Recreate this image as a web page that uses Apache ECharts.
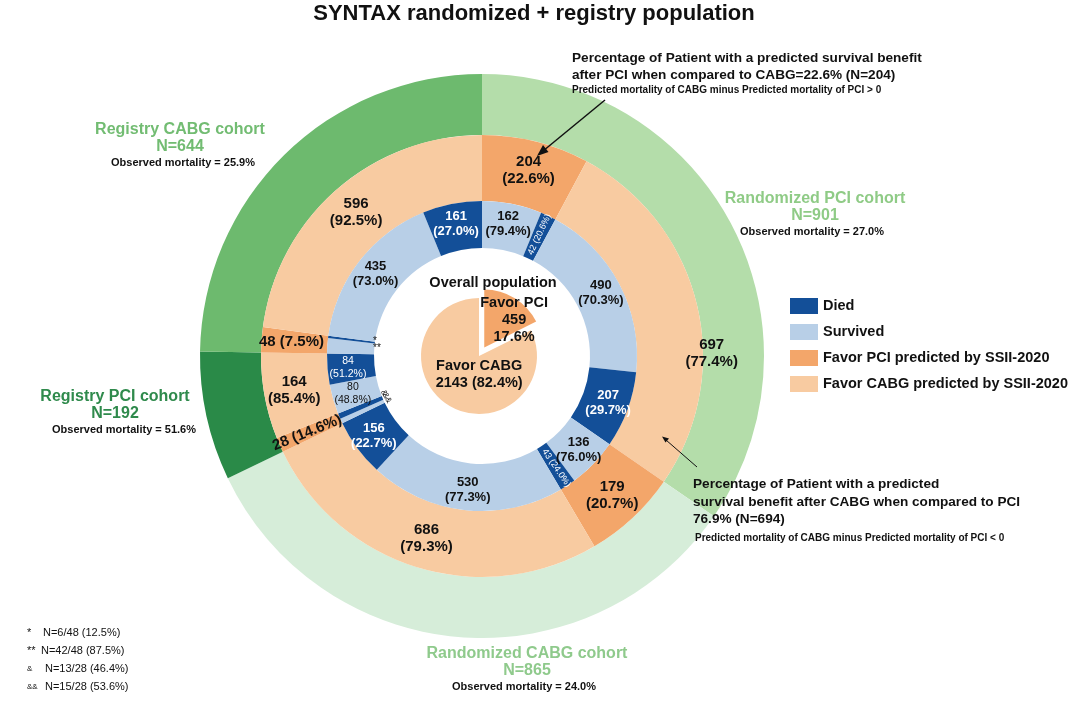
<!DOCTYPE html>
<html><head><meta charset="utf-8">
<script src="https://cdn.jsdelivr.net/npm/echarts@6/dist/echarts.min.js"></script>
<style>html,body{margin:0;padding:0;background:#fff}#c{width:1080px;height:706px}</style>
</head><body><div id="c"></div>
<script>
// ---------- DATA ----------
const cohorts = ['Randomized PCI cohort', 'Randomized CABG cohort', 'Registry PCI cohort', 'Registry CABG cohort'];
const cohortN = [901, 865, 192, 644];
const cohortMortality = ['27.0%', '24.0%', '51.6%', '25.9%'];
const favorPCI = [204, 179, 28, 48];
const favorCABG = [697, 686, 164, 596];
const survivedFavorPCI = [162, 136, 13, 42];
const diedFavorPCI = [42, 43, 15, 6];
const survivedFavorCABG = [490, 530, 80, 435];
const diedFavorCABG = [207, 156, 84, 161];
const overallNames = ['Favor PCI', 'Favor CABG'];
const overallValues = [459, 2143];
const footnoteSymbols = ['*', '**', '&', '&&'];
const footnoteTexts = ['N=6/48 (12.5%)', 'N=42/48 (87.5%)', 'N=13/28 (46.4%)', 'N=15/28 (53.6%)'];
const legendNames = ['Died', 'Survived', 'Favor PCI predicted by SSII-2020', 'Favor CABG predicted by SSII-2020'];

// ---------- STYLE ----------
const FONT = '"Liberation Sans", Arial, Helvetica, sans-serif';
const C_DIED = '#134f98', C_SURV = '#b8cfe7', C_FPCI = '#f3a66a', C_FCABG = '#f8cba1';
const cohortColors = ['#b4ddaa', '#d6edd9', '#2a8a48', '#6dba6e'];
const cohortTextColors = ['#8fcb86', '#8fca8c', '#2f8a4c', '#72bc72'];
const CX = 482, CY = 356;
const pct = (a, b) => (a / b * 100).toFixed(1) + '%';

// ---------- BUILD RINGS ----------
const outerData = cohorts.map((n, i) => ({ name: n, value: cohortN[i], itemStyle: { color: cohortColors[i] } }));

const orangeData = [];
cohorts.forEach((n, i) => {
  const small = favorPCI[i] < 100;
  const pLbl = small ? `${favorPCI[i]} (${pct(favorPCI[i], cohortN[i])})` : `${favorPCI[i]}\n(${pct(favorPCI[i], cohortN[i])})`;
  const p = { name: legendNames[2], value: favorPCI[i], itemStyle: { color: C_FPCI }, label: { formatter: pLbl } };
  if (i === 2) p.label.rotate = 22;
  orangeData.push(p);
  const c = { name: legendNames[3], value: favorCABG[i], itemStyle: { color: C_FCABG }, label: { formatter: `${favorCABG[i]}\n(${pct(favorCABG[i], cohortN[i])})` } };
  if (i === 0) {
    c.label.formatter = '{s|}\n' + c.label.formatter;
    c.label.rich = { s: { height: 84, lineHeight: 84 } };
    c.label.padding = [0, 0, 0, 88];
  }
  orangeData.push(c);
});

const radialRot = [65, 304];
const blueData = [];
cohorts.forEach((n, i) => {
  const sp = { name: 'Survived', value: survivedFavorPCI[i], itemStyle: { color: C_SURV },
    label: { formatter: `${survivedFavorPCI[i]}\n(${pct(survivedFavorPCI[i], favorPCI[i])})`, color: '#111' } };
  const dp = { name: 'Died', value: diedFavorPCI[i], itemStyle: { color: C_DIED },
    label: { formatter: `${diedFavorPCI[i]} (${pct(diedFavorPCI[i], favorPCI[i])})`, color: '#fff', rotate: radialRot[i], fontSize: 9, fontWeight: 'normal', lineHeight: 10 } };
  if (i >= 2) { sp.label = { show: false }; dp.label = { show: false }; }
  blueData.push(sp, dp);
  const sc = { name: 'Survived', value: survivedFavorCABG[i], itemStyle: { color: C_SURV },
    label: { formatter: `${survivedFavorCABG[i]}\n(${pct(survivedFavorCABG[i], favorCABG[i])})`, color: '#111' } };
  const dc = { name: 'Died', value: diedFavorCABG[i], itemStyle: { color: C_DIED },
    label: { formatter: `${diedFavorCABG[i]}\n(${pct(diedFavorCABG[i], favorCABG[i])})`, color: '#fff' } };
  if (i === 2) { sc.label.fontSize = 10.5; dc.label.fontSize = 10.5; sc.label.fontWeight = 'normal'; dc.label.fontWeight = 'normal'; sc.label.lineHeight = 13; dc.label.lineHeight = 13; }
  blueData.push(sc, dc);
});

const total = overallValues.reduce((a, b) => a + b, 0);
const centerData = [
  { name: legendNames[2], value: overallValues[0], selected: true, itemStyle: { color: C_FPCI },
    label: { formatter: `${overallNames[0]}\n${overallValues[0]}\n${pct(overallValues[0], total)}`, padding: [0, 0, 0, 26] } },
  { name: legendNames[3], value: overallValues[1], itemStyle: { color: C_FCABG },
    label: { formatter: `${overallNames[1]}\n${overallValues[1]} (${pct(overallValues[1], total)})\n{s|}`, padding: [0, 0, 0, 34],
      rich: { s: { height: 18, lineHeight: 18 } } } }
];

// ---------- GRAPHICS (annotations) ----------
const g = [];
function txt(x, y, text, size, color, align, weight, rot) {
  g.push({ type: 'text', x: x, y: y, z: 100, silent: true, rotation: rot || 0,
    style: { text: text, fill: color || '#111', font: `${weight || 'bold'} ${size}px ${FONT}`, textAlign: align || 'center', textVerticalAlign: 'middle' } });
}
txt(534, 14, 'SYNTAX randomized + registry population', 22, '#111');
const cohortLabelPos = [[815, 199, 812], [527, 654, 524], [115, 397, 124], [180, 130, 183]];
cohorts.forEach((n, i) => {
  const [x, y, mx] = cohortLabelPos[i];
  txt(x, y, n, 16, cohortTextColors[i]);
  txt(x, y + 17, 'N=' + cohortN[i], 16, cohortTextColors[i]);
  txt(mx, y + 33, 'Observed mortality = ' + cohortMortality[i], 11, '#111');
});
txt(572, 58, `Percentage of Patient with a predicted survival benefit`, 13.6, '#111', 'left');
txt(572, 75, `after PCI when compared to CABG=${pct(favorPCI[0], cohortN[0])} (N=${favorPCI[0]})`, 13.6, '#111', 'left');
txt(572, 90, 'Predicted mortality of CABG minus Predicted mortality of PCI > 0', 10, '#111', 'left');
txt(693, 484, 'Percentage of Patient with a predicted', 13.6, '#111', 'left');
txt(693, 502, 'survival benefit after CABG when compared to PCI', 13.6, '#111', 'left');
txt(693, 519, '76.9% (N=694)', 13.6, '#111', 'left');
txt(695, 538, 'Predicted mortality of CABG minus Predicted mortality of PCI < 0', 10, '#111', 'left');
txt(493, 283, 'Overall population', 14.5, '#111');
g.push({ type: 'line', z: 100, silent: true, shape: { x1: 605, y1: 100, x2: 543, y2: 151 }, style: { stroke: '#111', lineWidth: 1.5 } });
g.push({ type: 'polygon', z: 100, silent: true, shape: { points: [[537, 156], [548.5, 152], [543, 145]] }, style: { fill: '#111' } });
g.push({ type: 'line', z: 100, silent: true, shape: { x1: 697, y1: 467, x2: 666, y2: 440 }, style: { stroke: '#111', lineWidth: 1 } });
g.push({ type: 'polygon', z: 100, silent: true, shape: { points: [[662, 436.5], [669, 438.5], [665.5, 442.5]] }, style: { fill: '#111' } });
txt(375, 341, footnoteSymbols[0], 10, '#111', 'center', 'normal');
txt(377, 348, footnoteSymbols[1], 10, '#111', 'center', 'normal');
txt(384, 393, footnoteSymbols[2], 8, '#111', 'center', 'normal', -Math.PI / 3);
txt(387, 398, footnoteSymbols[3], 8, '#111', 'center', 'normal', -Math.PI / 3);
const fnX = [43, 41, 45, 45];
footnoteSymbols.forEach((s, i) => {
  const y = 633 + i * 18;
  txt(27, y, s, s.startsWith('&') ? 8 : 11, '#111', 'left', 'normal');
  txt(fnX[i], y, footnoteTexts[i], 11, '#111', 'left', 'normal');
});

// ---------- OPTION ----------
const baseLabel = { show: true, position: 'inside', fontFamily: FONT, fontWeight: 'bold', color: '#111' };
const chart = echarts.init(document.getElementById('c'), null, { renderer: 'canvas' });
chart.setOption({
  animation: false,
  backgroundColor: '#fff',
  legend: {
    data: legendNames, orient: 'vertical', left: 785, top: 293, itemWidth: 28, itemHeight: 16, itemGap: 10,
    icon: 'rect', selectedMode: false,
    textStyle: { fontFamily: FONT, fontWeight: 'bold', fontSize: 14.5, color: '#111' }
  },
  graphic: g,
  series: [
    { type: 'pie', name: 'cohort', center: [CX, CY], radius: [221, 282], startAngle: 90, clockwise: true,
      avoidLabelOverlap: false, label: { show: false }, labelLine: { show: false }, emphasis: { disabled: true },
      itemStyle: { borderWidth: 0 }, data: outerData },
    { type: 'pie', name: 'prediction', center: [CX, CY], radius: [155, 221], startAngle: 90, clockwise: true,
      avoidLabelOverlap: false, labelLayout: { hideOverlap: false },
      label: Object.assign({}, baseLabel, { fontSize: 15, lineHeight: 17 }), labelLine: { show: false },
      emphasis: { disabled: true }, itemStyle: { borderWidth: 0 }, data: orangeData },
    { type: 'pie', name: 'outcome', center: [CX, CY], radius: [108, 155], startAngle: 90, clockwise: true,
      avoidLabelOverlap: false, labelLayout: { hideOverlap: false },
      label: Object.assign({}, baseLabel, { fontSize: 13, lineHeight: 15 }), labelLine: { show: false },
      emphasis: { disabled: true }, itemStyle: { borderWidth: 0 }, data: blueData },
    { type: 'pie', name: 'overall', center: [479, 356], radius: [0, 58], startAngle: 90, clockwise: true,
      selectedMode: 'single', selectedOffset: 10, avoidLabelOverlap: false, labelLayout: { hideOverlap: false },
      label: Object.assign({}, baseLabel, { fontSize: 14.5, lineHeight: 17 }), labelLine: { show: false },
      emphasis: { disabled: true }, itemStyle: { borderWidth: 0 }, data: centerData }
  ]
});
</script>
</body></html>
